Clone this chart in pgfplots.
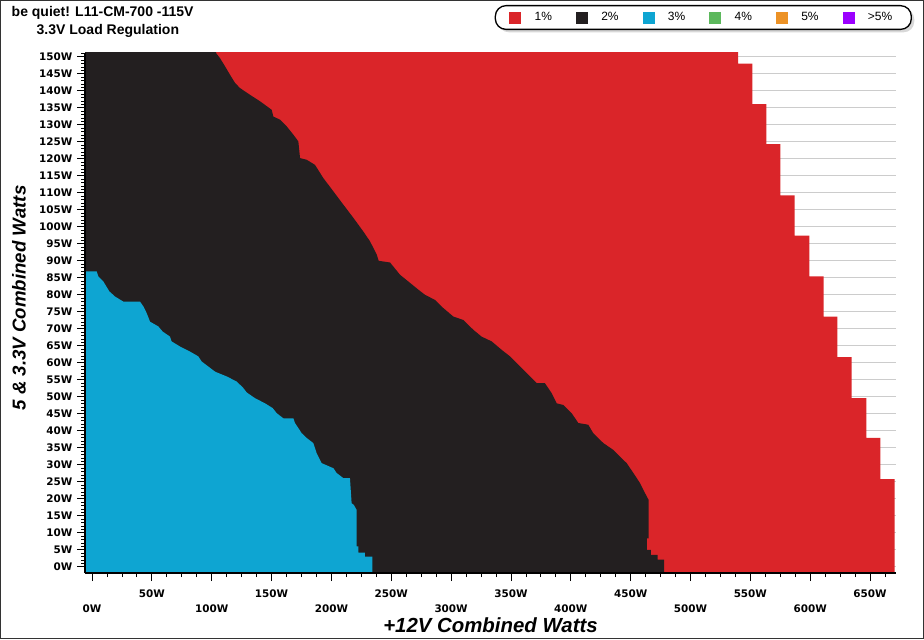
\documentclass[border=0pt]{standalone}
\usepackage{fontspec}
\setmainfont{Liberation Sans}
\newfontfamily\dejavu{DejaVu Sans}
\usepackage{pgfplots}
\pgfplotsset{compat=1.18}
\usetikzlibrary{shadows}
\definecolor{cred}{RGB}{218,37,41}
\definecolor{cblack}{RGB}{35,31,32}
\definecolor{cblue}{RGB}{14,165,210}
\definecolor{cgreen}{RGB}{92,184,92}
\definecolor{corange}{RGB}{236,146,38}
\definecolor{cpurple}{RGB}{155,0,255}
\pgfplotsset{sq/.style={legend image code/.code={\pgfsetcornersarced{\pgfpointorigin}\pgfsetfillcolor{#1}\pgfpathrectangle{\pgfpoint{0pt}{-4.5pt}}{\pgfpoint{9pt}{9pt}}\pgfusepath{fill}}}}
\begin{document}
\begin{tikzpicture}[x=0.75pt,y=0.75pt]
\begin{axis}[
  set layers, axis on top,
  scale only axis, width=608.25pt, height=390pt,
  at={(63.75pt,49.5pt)}, anchor=south west,
  xmin=-5.85, xmax=671.7, ymin=-1.8, ymax=151.1,
  axis lines*=left,
  axis line style={line width=1.5pt, black},
  tick align=outside,
  major tick length=6pt, minor tick length=3pt,
  tick style={black, line width=0.6pt},
  xtick={50,150,...,650},
  extra x ticks={0,100,...,600},
  xticklabel style={yshift=-3pt},
  extra x tick style={xticklabel style={yshift=-11pt}},
  minor xtick={0,12.5,...,670},
  ytick={0,5,...,150},
  minor ytick={0,1,...,151},
  xticklabel={\pgfmathprintnumber[assume math mode=true]{\tick}W},
  yticklabel={\pgfmathprintnumber[assume math mode=true]{\tick}W},
  ticklabel style={font=\dejavu\bfseries\fontsize{7.8}{9}\selectfont, text=black},
  ymajorgrids=true,
  major grid style={gray!40, line width=0.7pt, /pgfplots/on layer=axis background},
  xlabel={+12V Combined Watts},
  ylabel={5 \& 3.3V Combined Watts},
  xlabel style={at={(axis description cs:0.5,-0.1135)}, anchor=base, font=\bfseries\itshape\fontsize{15.3}{18}\selectfont},
  ylabel style={at={(axis description cs:-0.0814,0.529)}, anchor=center, font=\bfseries\itshape\fontsize{14}{17}\selectfont},
  legend columns=6,
  legend style={at={(axis description cs:1.0197,1.0923)}, anchor=north east,
    draw=black, line width=1pt, rounded corners=8pt, fill=white,
    drop shadow={shadow xshift=2.2pt, shadow yshift=-2.2pt, fill=gray!60},
    inner xsep=10.5pt, inner ysep=3pt,
    font=\fontsize{9}{10}\selectfont,
    cells={anchor=west},
    /tikz/every odd column/.append style={column sep=8pt},
    /tikz/every even column/.append style={column sep=2pt}},
]
% 1% region (red)
\addplot[fill=cred, draw=none, sq=cred] coordinates {
(-6,-2) (670.5,-2) (670.5,25.8) (658.6,25.8) (658.6,37.9) (647,37.9) (647,49.6)
(634.6,49.6) (634.6,61.7) (622.7,61.7) (622.7,73.6) (611.3,73.6) (611.3,85.4)
(599.3,85.4) (599.3,97.4) (587,97.4) (587,109.2) (575,109.2) (575,124.3)
(563.4,124.3) (563.4,136.1) (551.6,136.1) (551.6,148) (539.7,148) (539.7,152) (-6,152)
};
\addlegendentry{\makebox[27pt][l]{1\%}}
% 2% region (black)
\addplot[fill=cblack, draw=none, sq=cblack] coordinates {
(-6,152) (103.6,152) (103.6,151.1) (106.9,149.6) (111.1,147.2) (115.3,144.7) (119.5,142.3)
(123.6,140.8) (132,138.8) (140.4,136.9) (150.1,134.4) (151.5,132.4) (157.1,131.5)
(162.7,129.5) (168.2,127.1) (172.4,125.1) (173.8,120.2) (179.4,119.7) (186.3,118.2)
(193.3,114.3) (201.7,110.4) (210,106.5) (218.4,102.6) (226.7,98.6) (232.3,95.7)
(237.9,91.8) (239.5,90) (249,89.5) (257.3,85.9) (264.3,83.9) (272.7,81.5) (278.2,80)
(286.5,78.5) (293.5,76.1) (301.9,73.6) (310.2,72.6) (318.6,69.7) (325.5,67.7)
(333.9,66.3) (342.3,63.8) (349.2,61.9) (356.2,59.4) (363.2,57) (371.6,54) (378.4,54)
(384,51.1) (388.2,48.1) (393.7,47.6) (400.7,45.2) (406.3,42.3) (414.6,41.8)
(418.8,39.3) (427.2,36.4) (435.5,34.4) (441.1,32.4) (446.7,30.5) (452.3,27.6)
(457.9,24.6) (462,21.7) (465,19.7) (465,8.4) (463.5,8.4) (463.5,5) (467,5) (467,3.5)
(472.5,3.5) (472.5,2.1) (478,2.1) (478,-2) (-6,-2)
};
\addlegendentry{\makebox[27pt][l]{2\%}}
% 3% region (blue)
\addplot[fill=cblue, draw=none, sq=cblue] coordinates {
(-6,-2) (-6,86.9) (3.9,86.9) (5.3,85.4) (9.5,83.9) (14.5,81) (19.2,79.5) (26.2,78)
(40.1,78) (42.9,76.6) (45.7,74.6) (48.5,72.1) (55.4,70.7) (59,69.2) (65.2,67.7)
(66.5,66.3) (73.5,64.8) (81.9,63.3) (88.8,61.9) (91.6,60.4) (97.2,58.9) (102.8,57.4)
(112.5,56) (120.9,54.5) (126.4,52.6) (129.2,51.3) (136.2,49.6) (144.5,48.1)
(150.9,46.7) (154.3,45.2) (159.8,43.7) (168.2,43.7) (169.6,42.3) (172.4,40.8)
(175.2,39.3) (179.4,37.9) (184.9,36.4) (187.7,33.4) (191.9,30.5) (201.7,29)
(204.4,27.6) (210,26.1) (215.5,26.1) (216.9,18.7) (218.8,18.2) (221,16.8) (221,6)
(222.5,6) (222.5,4.2) (228,4.2) (228,3) (234.2,3) (234.2,-2)
};
\addlegendentry{\makebox[27pt][l]{3\%}}
\addlegendimage{sq=cgreen}
\addlegendentry{\makebox[27pt][l]{4\%}}
\addlegendimage{sq=corange}
\addlegendentry{\makebox[27pt][l]{5\%}}
\addlegendimage{sq=cpurple}
\addlegendentry{\makebox[20pt][l]{>5\%}}
\end{axis}
\node[anchor=base west, font=\bfseries\fontsize{10.5}{12}\selectfont] at (7,622) {be quiet! L11-CM-700 -115V};
\node[anchor=base west, font=\bfseries\fontsize{10.5}{12}\selectfont] at (32,604) {3.3V Load Regulation};
\draw[line width=0.75pt, black!80] (0.5,0.5) rectangle (923.5,638.5);
\pgfresetboundingbox
\path[use as bounding box] (0,0) rectangle (924,639);
\end{tikzpicture}
\end{document}
